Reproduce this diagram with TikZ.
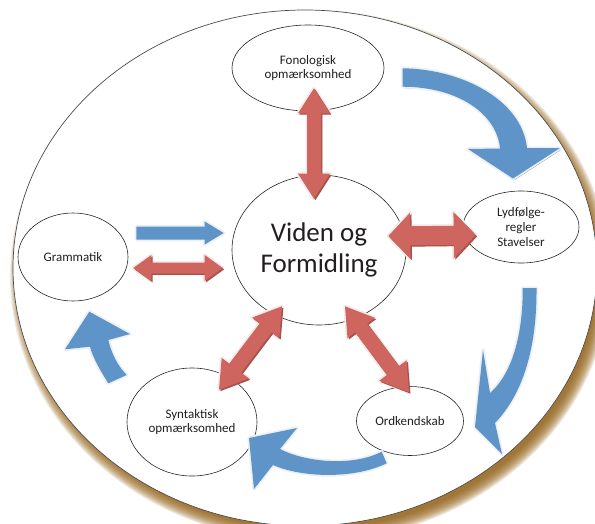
\documentclass[tikz,border=0pt]{standalone}
\usepackage{fontspec}
\setmainfont{Carlito}
\usetikzlibrary{shapes.geometric,calc}

\definecolor{redfill}{RGB}{207,101,95}
\definecolor{redshade}{RGB}{168,82,76}
\definecolor{redglow}{RGB}{245,235,234}
\definecolor{bluefill}{RGB}{95,148,201}
\definecolor{blueshade}{RGB}{125,140,170}
\definecolor{blueglow}{RGB}{237,240,245}
\definecolor{shadowcol}{RGB}{145,95,20}
\definecolor{inkcol}{RGB}{35,31,32}

\tikzset{
    every node/.style={font=\fontsize{13}{14.8}\selectfont, text=inkcol},
    topic/.style={ellipse, draw=black!85, line width=0.6pt, fill=white, inner sep=0pt, align=center},
    blueblock/.style={fill=bluefill, preaction={draw=blueglow, line width=3.5pt, line join=round}}
}

% block arrow with a head at both ends: from, to, shaft, head, head length, style
\newcommand{\twoheads}[6]{%
  \coordinate (ha) at ($(#1)!#5!(#2)$);
  \coordinate (hb) at ($(#2)!#5!(#1)$);
  \path[#6] (#1) -- ($(ha)!#4!90:(#2)$) -- ($(ha)!#3!90:(#2)$)
    -- ($(hb)!#3!-90:(#1)$) -- ($(hb)!#4!-90:(#1)$) -- (#2)
    -- ($(hb)!#4!90:(#1)$) -- ($(hb)!#3!90:(#1)$)
    -- ($(ha)!#3!-90:(#2)$) -- ($(ha)!#4!-90:(#2)$) -- cycle;
}
% block arrow with one head
\newcommand{\onehead}[6]{%
  \coordinate (hb) at ($(#2)!#5!(#1)$);
  \path[#6] ($(#1)!#3!90:(#2)$) -- ($(hb)!#3!-90:(#1)$) -- ($(hb)!#4!-90:(#1)$) -- (#2)
    -- ($(hb)!#4!90:(#1)$) -- ($(hb)!#3!90:(#1)$) -- ($(#1)!#3!-90:(#2)$) -- cycle;
}
% red link: glow, shade, fill
\newcommand{\redlink}[5]{%
  \coordinate (sa) at ([shift={(1.4pt,-1.4pt)}]#1);
  \coordinate (sb) at ([shift={(1.4pt,-1.4pt)}]#2);
  \twoheads{#1}{#2}{#3}{#4}{#5}{draw=redglow, line width=3.5pt, line join=round}
  \twoheads{sa}{sb}{#3}{#4}{#5}{fill=redshade}
  \twoheads{#1}{#2}{#3}{#4}{#5}{fill=redfill}
}
% the bent arrow at the top right
\newcommand{\topbend}{(402.7,68.3) .. controls (462,69) and (522,100) .. (527,148)
  -- (560,148) -- (513,178.5) -- (468,149) -- (500,148.5)
  .. controls (497,115) and (460,87) .. (402.7,86.7) -- cycle}

\begin{document}
\begin{tikzpicture}[x=1pt, y=-1pt]
    \useasboundingbox (0,0) rectangle (595,523);

    % big plate with its shadow
    \foreach \k in {1,...,14}
        \fill[shadowcol, opacity=0.13] (310,276) ellipse ({286+\k} and {252+\k});
    \draw[fill=white, draw=black!70, line width=0.7pt] (305,268) ellipse (292 and 258);

    % topics
    \node[topic, minimum width=174pt, minimum height=150pt,
          font=\fontsize{27}{31}\selectfont] (cen) at (319,250) {Viden og\\Formidling};
    \node[topic, minimum width=152pt, minimum height=86pt] (fon) at (308,68) {Fonologisk\\opmærksomhed};
    \node[topic, minimum width=116pt, minimum height=72pt] (lyd) at (521,227) {Lydfølge-\\regler\\Stavelser};
    \node[topic, minimum width=107pt, minimum height=69pt] (ord) at (410,421) {Ordkendskab};
    \node[topic, minimum width=130pt, minimum height=108pt] (syn) at (192,422) {Syntaktisk\\opmærksomhed};
    \node[topic, minimum width=110pt, minimum height=88pt] (gram) at (73,257) {Grammatik};

    % arrow ends
    \coordinate (fon-in) at ([xshift=6pt, yshift=23pt]fon.south);
    \coordinate (cen-n) at ([xshift=-5pt, yshift=-24pt]cen.north);
    \coordinate (cen-e) at ([xshift=-18pt, yshift=14pt]cen.east);
    \coordinate (lyd-in) at ([xshift=13pt, yshift=-8pt]lyd.west);
    \coordinate (cen-se) at ([xshift=26pt, yshift=19pt]cen.south);
    \coordinate (ord-in) at ([xshift=-1pt, yshift=-6pt]ord.north);
    \coordinate (cen-sw) at ([xshift=-37pt, yshift=19pt]cen.south);
    \coordinate (syn-in) at ([xshift=27pt, yshift=-22pt]syn.north);
    \coordinate (gram-r) at ([xshift=5pt, yshift=-11pt]gram.east);
    \coordinate (cen-wr) at ([xshift=-9pt, yshift=-18pt]cen.west);
    \coordinate (gram-b) at ([xshift=8pt, yshift=24pt]gram.east);
    \coordinate (cen-wb) at ([xshift=-8pt, yshift=17pt]cen.west);

    % red links to the centre
    \redlink{fon-in}{cen-n}{7pt}{16pt}{25pt}
    \redlink{cen-e}{lyd-in}{9.5pt}{23pt}{22pt}
    \redlink{cen-se}{ord-in}{7.5pt}{17pt}{27pt}
    \redlink{cen-sw}{syn-in}{7.5pt}{17pt}{27pt}
    \redlink{gram-r}{cen-wr}{5.5pt}{13pt}{18pt}
    \onehead{gram-b}{cen-wb}{6.5pt}{11.5pt}{19pt}{blueblock}

    % blue cycle
    \fill[blueshade, shift={(1.5,1.5)}] \topbend;
    \path[blueblock] \topbend;
    \path[blueblock] (522.7,288) -- (536.5,288) .. controls (537,350) and (522,395) .. (495,423)
        -- (502,454) -- (475,427) -- (483,350) -- (490,393)
        .. controls (514,372) and (523,330) .. cycle;
    \path[blueblock] (386.7,463.3) .. controls (352,480) and (300,477) .. (273,465)
        -- (254,489) -- (249,438) -- (297,428) -- (280,449)
        .. controls (305,462) and (352,467) .. (381.7,451.7) -- cycle;
    \path[blueblock] (108.3,383.3) .. controls (100,370) and (93,358) .. (90,346.7)
        -- (65,349.3) -- (89.3,311.7) -- (130,334) -- (108.3,340)
        .. controls (112,355) and (118,366) .. (126.7,375) -- cycle;
\end{tikzpicture}
\end{document}
